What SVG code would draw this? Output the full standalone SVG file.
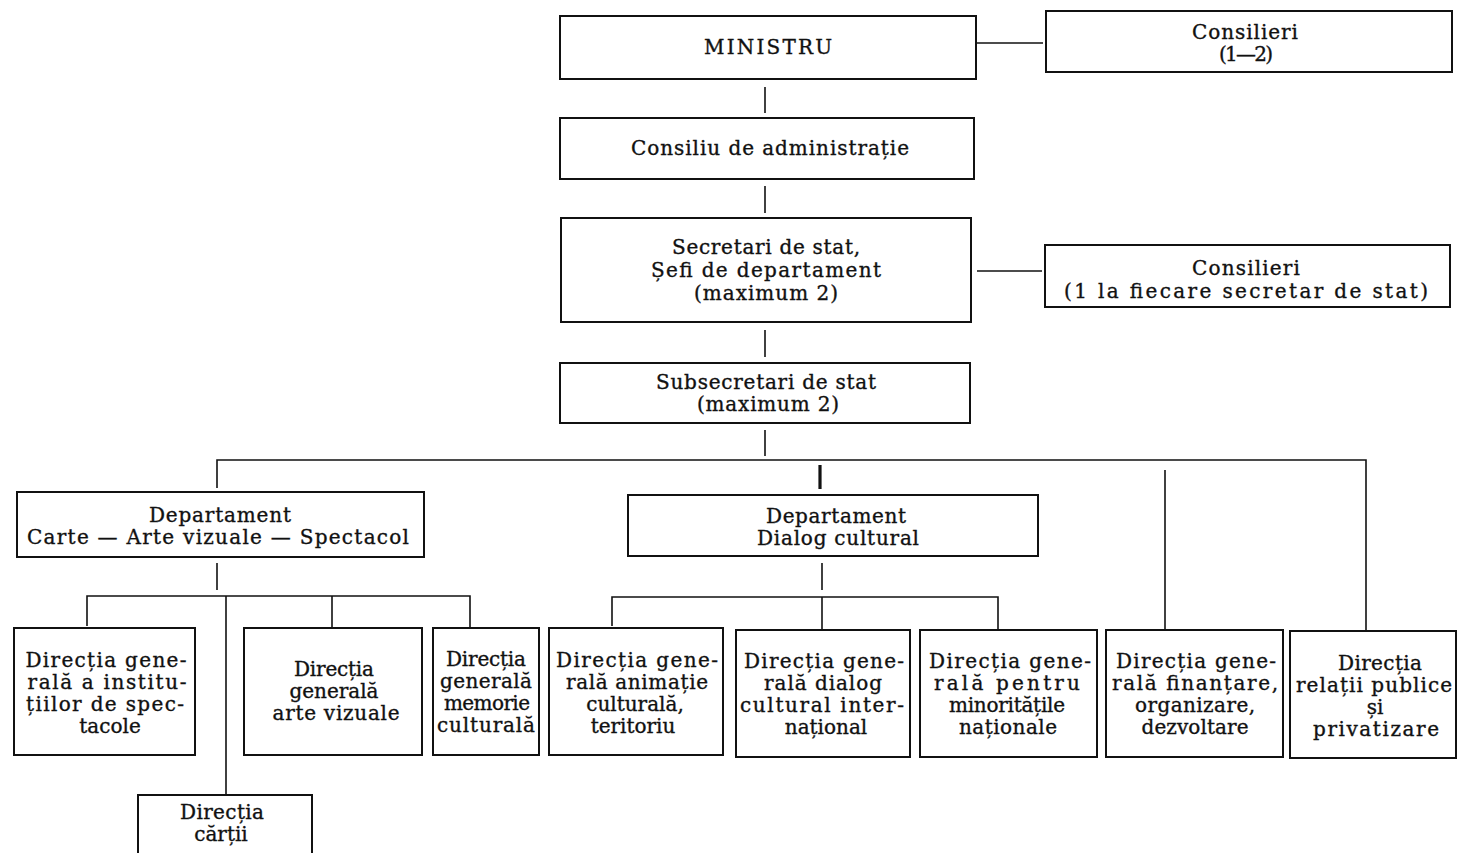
<svg xmlns="http://www.w3.org/2000/svg" width="1460" height="853" viewBox="0 0 1460 853">
<style>
  .box { fill: #ffffff; stroke: #111; stroke-width: 2; }
  .ln { stroke: #111; stroke-width: 1.6; fill: none; }
  .thick { stroke: #111; stroke-width: 3.2; fill: none; }
  text { font-family: "DejaVu Serif", "Liberation Serif", serif; font-size: 20px; fill: #111; stroke: #111; stroke-width: 0.35; text-anchor: middle; }
</style>
<rect x="0" y="0" width="1460" height="853" fill="#ffffff"/>
<g id="connectors">
  <line class="ln" x1="977" y1="43" x2="1043" y2="43"/>
  <line class="ln" x1="765" y1="87" x2="765" y2="113"/>
  <line class="ln" x1="765" y1="186" x2="765" y2="213"/>
  <line class="ln" x1="977" y1="271" x2="1042" y2="271"/>
  <line class="ln" x1="765" y1="330" x2="765" y2="357"/>
  <line class="ln" x1="765" y1="430" x2="765" y2="456"/>
  <polyline class="ln" points="217,488 217,460 1366,460 1366,631"/>
  <line class="thick" x1="820" y1="465" x2="820" y2="489"/>
  <line class="ln" x1="1165" y1="470" x2="1165" y2="630"/>
  <line class="ln" x1="217" y1="563" x2="217" y2="590"/>
  <polyline class="ln" points="87,626 87,596 470,596 470,627"/>
  <line class="ln" x1="226" y1="596" x2="226" y2="795"/>
  <line class="ln" x1="332" y1="596" x2="332" y2="627"/>
  <line class="ln" x1="822" y1="563" x2="822" y2="590"/>
  <polyline class="ln" points="612,626 612,597 998,597 998,630"/>
  <line class="ln" x1="822" y1="597" x2="822" y2="630"/>
</g>
<g id="ministru">
  <rect class="box" x="560" y="16" width="416" height="63"/>
  <text x="768" y="54" textLength="128" lengthAdjust="spacing">MINISTRU</text>
</g>
<g id="consilieri-ministru">
  <rect class="box" x="1046" y="11" width="406" height="61"/>
  <text x="1245" y="39" textLength="106" lengthAdjust="spacing">Consilieri</text>
  <text x="1246" y="61" textLength="54" lengthAdjust="spacing">(1—2)</text>
</g>
<g id="consiliu-administratie">
  <rect class="box" x="560" y="118" width="414" height="61"/>
  <text x="770" y="155" textLength="278" lengthAdjust="spacing">Consiliu de administrație</text>
</g>
<g id="secretari">
  <rect class="box" x="561" y="218" width="410" height="104"/>
  <text x="766" y="254" textLength="188" lengthAdjust="spacing">Secretari de stat,</text>
  <text x="766" y="277" textLength="230" lengthAdjust="spacing">Șefi de departament</text>
  <text x="766" y="300" textLength="144" lengthAdjust="spacing">(maximum 2)</text>
</g>
<g id="consilieri-secretari">
  <rect class="box" x="1045" y="245" width="405" height="62"/>
  <text x="1246" y="275" textLength="108" lengthAdjust="spacing">Consilieri</text>
  <text x="1246" y="298" textLength="364" lengthAdjust="spacing">(1 la fiecare secretar de stat)</text>
</g>
<g id="subsecretari">
  <rect class="box" x="560" y="363" width="410" height="60"/>
  <text x="766" y="389" textLength="220" lengthAdjust="spacing">Subsecretari de stat</text>
  <text x="768" y="411" textLength="142" lengthAdjust="spacing">(maximum 2)</text>
</g>
<g id="dept-carte">
  <rect class="box" x="17" y="492" width="407" height="65"/>
  <text x="220" y="522" textLength="142" lengthAdjust="spacing">Departament</text>
  <text x="218" y="544" textLength="382" lengthAdjust="spacing">Carte — Arte vizuale — Spectacol</text>
</g>
<g id="dept-dialog">
  <rect class="box" x="628" y="495" width="410" height="61"/>
  <text x="836" y="523" textLength="140" lengthAdjust="spacing">Departament</text>
  <text x="838" y="545" textLength="162" lengthAdjust="spacing">Dialog cultural</text>
</g>
<g id="dg-spectacole">
  <rect class="box" x="14" y="628" width="181" height="127"/>
  <text x="106" y="667" textLength="161" lengthAdjust="spacing">Direcția gene-</text>
  <text x="107" y="689" textLength="159" lengthAdjust="spacing">rală a institu-</text>
  <text x="105" y="711" textLength="158" lengthAdjust="spacing">țiilor de spec-</text>
  <text x="110" y="733">tacole</text>
</g>
<g id="dg-arte-vizuale">
  <rect class="box" x="244" y="628" width="178" height="127"/>
  <text x="334" y="676" textLength="80" lengthAdjust="spacing">Direcția</text>
  <text x="334" y="698" textLength="89" lengthAdjust="spacing">generală</text>
  <text x="336" y="720" textLength="127" lengthAdjust="spacing">arte vizuale</text>
</g>
<g id="dg-memorie">
  <rect class="box" x="433" y="628" width="106" height="127"/>
  <text x="486" y="666" textLength="80" lengthAdjust="spacing">Direcția</text>
  <text x="486" y="688" textLength="92" lengthAdjust="spacing">generală</text>
  <text x="487" y="710" textLength="86" lengthAdjust="spacing">memorie</text>
  <text x="486" y="732" textLength="98" lengthAdjust="spacing">culturală</text>
</g>
<g id="directia-cartii">
  <rect class="box" x="138" y="795" width="174" height="70"/>
  <text x="222" y="819" textLength="84" lengthAdjust="spacing">Direcția</text>
  <text x="221" y="841">cărții</text>
</g>
<g id="dg-animatie">
  <rect class="box" x="549" y="628" width="174" height="127"/>
  <text x="637" y="667" textLength="162" lengthAdjust="spacing">Direcția gene-</text>
  <text x="637" y="689" textLength="142" lengthAdjust="spacing">rală animație</text>
  <text x="635" y="711">culturală,</text>
  <text x="633" y="733">teritoriu</text>
</g>
<g id="dg-dialog-international">
  <rect class="box" x="736" y="630" width="174" height="127"/>
  <text x="824" y="668" textLength="160" lengthAdjust="spacing">Direcția gene-</text>
  <text x="823" y="690" textLength="118" lengthAdjust="spacing">rală dialog</text>
  <text x="822" y="712" textLength="164" lengthAdjust="spacing">cultural inter-</text>
  <text x="826" y="734">național</text>
</g>
<g id="dg-minoritati">
  <rect class="box" x="920" y="630" width="177" height="127"/>
  <text x="1010" y="668" textLength="162" lengthAdjust="spacing">Direcția gene-</text>
  <text x="1007" y="690" textLength="146" lengthAdjust="spacing">rală pentru</text>
  <text x="1007" y="712" textLength="116" lengthAdjust="spacing">minoritățile</text>
  <text x="1008" y="734" textLength="98" lengthAdjust="spacing">naționale</text>
</g>
<g id="dg-finantare">
  <rect class="box" x="1106" y="630" width="177" height="127"/>
  <text x="1196" y="668" textLength="160" lengthAdjust="spacing">Direcția gene-</text>
  <text x="1195" y="690" textLength="166" lengthAdjust="spacing">rală finanțare,</text>
  <text x="1195" y="712" textLength="120" lengthAdjust="spacing">organizare,</text>
  <text x="1195" y="734" textLength="107" lengthAdjust="spacing">dezvoltare</text>
</g>
<g id="d-relatii-publice">
  <rect class="box" x="1290" y="631" width="166" height="127"/>
  <text x="1380" y="670" textLength="84" lengthAdjust="spacing">Direcția</text>
  <text x="1374" y="692" textLength="156" lengthAdjust="spacing">relații publice</text>
  <text x="1375" y="714">și</text>
  <text x="1376" y="736" textLength="126" lengthAdjust="spacing">privatizare</text>
</g>
</svg>
